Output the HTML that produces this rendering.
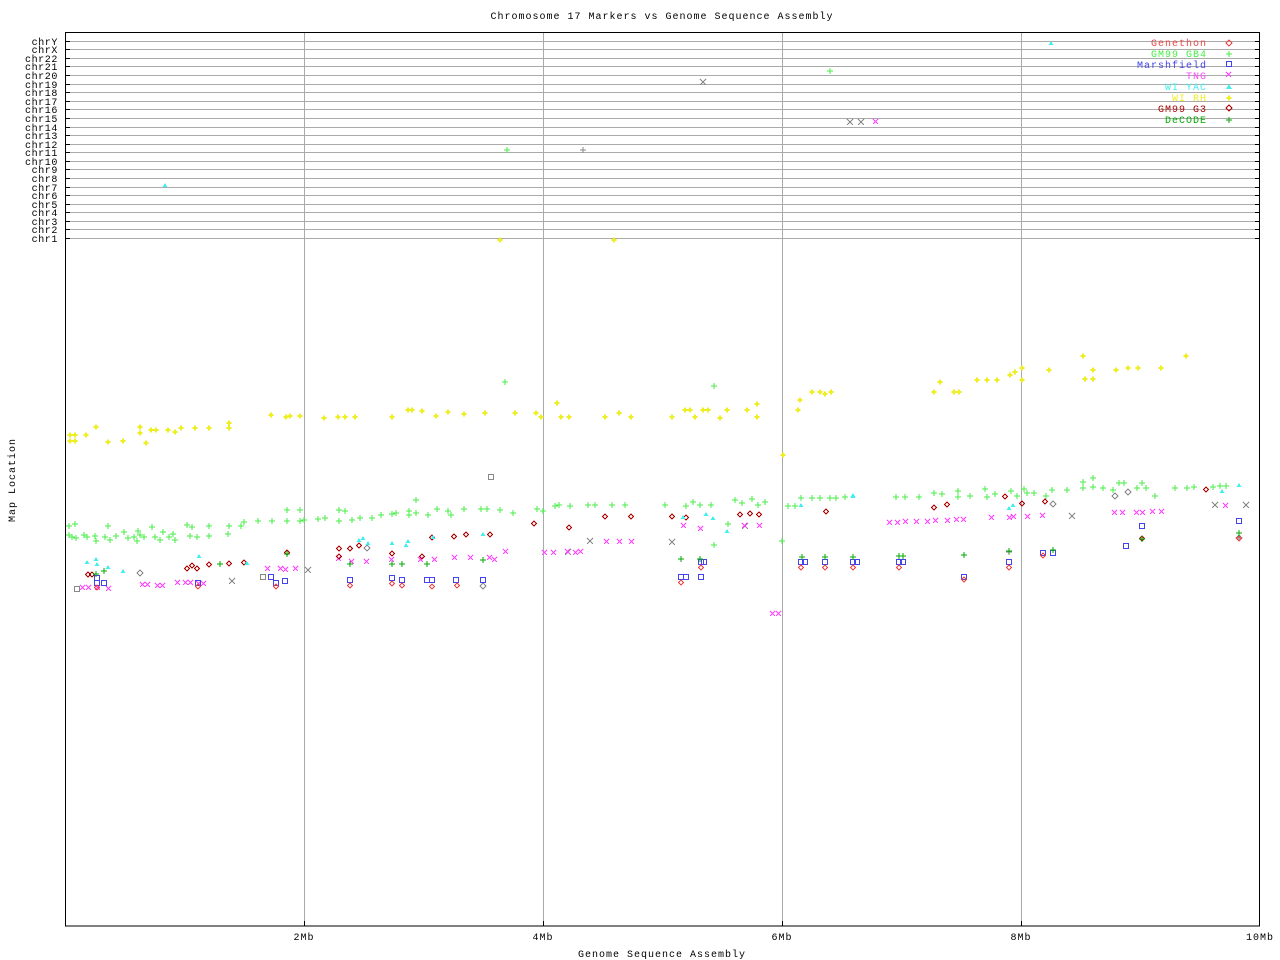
<!DOCTYPE html>
<html><head><meta charset="utf-8"><style>
body{margin:0;background:#fff}
svg{display:block}
text{font-family:"Liberation Mono",monospace;font-size:10px;letter-spacing:1px}
.chr text{letter-spacing:0.6px}
</style></head><body>
<svg width="1280" height="960" viewBox="0 0 1280 960" xmlns="http://www.w3.org/2000/svg" shape-rendering="crispEdges">
<text x="662" y="19" text-anchor="middle" fill="#000">Chromosome 17 Markers vs Genome Sequence Assembly</text>
<text x="662" y="957" text-anchor="middle" fill="#000">Genome Sequence Assembly</text>
<text transform="translate(15,480) rotate(-90)" text-anchor="middle" fill="#000">Map Location</text>
<g stroke="#aaa" stroke-width="1">
<path d="M304.5 32V926M543.5 32V926M782.5 32V926M1021.5 32V926"/>
<path d="M65 41.5H1260M65 49.5H1260M65 58.5H1260M65 66.5H1260M65 75.5H1260M65 84.5H1260M65 92.5H1260M65 101.5H1260M65 109.5H1260M65 118.5H1260M65 127.5H1260M65 135.5H1260M65 144.5H1260M65 152.5H1260M65 161.5H1260M65 169.5H1260M65 178.5H1260M65 187.5H1260M65 195.5H1260M65 204.5H1260M65 212.5H1260M65 221.5H1260M65 229.5H1260M65 238.5H1260"/>
</g>
<g stroke="#000">
<rect x="65.5" y="32.5" width="1194" height="893.5" fill="none"/>
<path d="M65 41.5h5M65 49.5h5M65 58.5h5M65 66.5h5M65 75.5h5M65 84.5h5M65 92.5h5M65 101.5h5M65 109.5h5M65 118.5h5M65 127.5h5M65 135.5h5M65 144.5h5M65 152.5h5M65 161.5h5M65 169.5h5M65 178.5h5M65 187.5h5M65 195.5h5M65 204.5h5M65 212.5h5M65 221.5h5M65 229.5h5M65 238.5h5"/>
<path d="M1260 41.5h-5M1260 49.5h-5M1260 58.5h-5M1260 66.5h-5M1260 75.5h-5M1260 84.5h-5M1260 92.5h-5M1260 101.5h-5M1260 109.5h-5M1260 118.5h-5M1260 127.5h-5M1260 135.5h-5M1260 144.5h-5M1260 152.5h-5M1260 161.5h-5M1260 169.5h-5M1260 178.5h-5M1260 187.5h-5M1260 195.5h-5M1260 204.5h-5M1260 212.5h-5M1260 221.5h-5M1260 229.5h-5M1260 238.5h-5"/>
<path d="M304.5 926v-5M543.5 926v-5M782.5 926v-5M1021.5 926v-5"/>
</g>
<g class="chr" text-anchor="end" fill="#000">
<text x="58" y="45">chrY</text><text x="58" y="53">chrX</text><text x="58" y="62">chr22</text><text x="58" y="70">chr21</text><text x="58" y="79">chr20</text><text x="58" y="88">chr19</text><text x="58" y="96">chr18</text><text x="58" y="105">chr17</text><text x="58" y="113">chr16</text><text x="58" y="122">chr15</text><text x="58" y="131">chr14</text><text x="58" y="139">chr13</text><text x="58" y="148">chr12</text><text x="58" y="156">chr11</text><text x="58" y="165">chr10</text><text x="58" y="173">chr9</text><text x="58" y="182">chr8</text><text x="58" y="191">chr7</text><text x="58" y="199">chr6</text><text x="58" y="208">chr5</text><text x="58" y="216">chr4</text><text x="58" y="225">chr3</text><text x="58" y="233">chr2</text><text x="58" y="242">chr1</text>
</g>
<g text-anchor="middle" fill="#000">
<text x="304" y="940">2Mb</text><text x="543" y="940">4Mb</text><text x="782" y="940">6Mb</text><text x="1021" y="940">8Mb</text><text x="1260" y="940">10Mb</text>
</g>
<g text-anchor="end">
<text x="1207" y="46" fill="#ee4444">Genethon</text>
<text x="1207" y="57" fill="#44ee44">GM99 GB4</text>
<text x="1207" y="68" fill="#4444ee">Marshfield</text>
<text x="1207" y="79" fill="#ff44ff">TNG</text>
<text x="1207" y="90" fill="#44eeee">WI YAC</text>
<text x="1207" y="101" fill="#eeee22">WI RH</text>
<text x="1207" y="112" fill="#aa0000">GM99 G3</text>
<text x="1207" y="123" fill="#00aa00">DeCODE</text>
</g>
<g fill="none" stroke-width="1">
<!-- WI RH stars -->
<path stroke="#eeee22" stroke-width="2.2" d="M1229 98m-2.5 0h5m-2.5-2.5v5
M70 435m-2.5 0h5m-2.5-2.5v5 M75 435m-2.5 0h5m-2.5-2.5v5 M70 441m-2.5 0h5m-2.5-2.5v5 M75 441m-2.5 0h5m-2.5-2.5v5 M86 435m-2.5 0h5m-2.5-2.5v5 M96 427m-2.5 0h5m-2.5-2.5v5 M108 442m-2.5 0h5m-2.5-2.5v5 M123 441m-2.5 0h5m-2.5-2.5v5 M140 427m-2.5 0h5m-2.5-2.5v5 M140 433m-2.5 0h5m-2.5-2.5v5 M146 443m-2.5 0h5m-2.5-2.5v5 M151 430m-2.5 0h5m-2.5-2.5v5 M156 430m-2.5 0h5m-2.5-2.5v5 M168 430m-2.5 0h5m-2.5-2.5v5 M175 432m-2.5 0h5m-2.5-2.5v5 M181 428m-2.5 0h5m-2.5-2.5v5 M195 428m-2.5 0h5m-2.5-2.5v5 M209 428m-2.5 0h5m-2.5-2.5v5 M229 423m-2.5 0h5m-2.5-2.5v5 M229 428m-2.5 0h5m-2.5-2.5v5 M271 415m-2.5 0h5m-2.5-2.5v5 M286 417m-2.5 0h5m-2.5-2.5v5 M290 416m-2.5 0h5m-2.5-2.5v5 M300 416m-2.5 0h5m-2.5-2.5v5 M324 418m-2.5 0h5m-2.5-2.5v5 M338 417m-2.5 0h5m-2.5-2.5v5 M345 417m-2.5 0h5m-2.5-2.5v5 M355 417m-2.5 0h5m-2.5-2.5v5 M392 417m-2.5 0h5m-2.5-2.5v5 M408 410m-2.5 0h5m-2.5-2.5v5 M412 410m-2.5 0h5m-2.5-2.5v5 M422 411m-2.5 0h5m-2.5-2.5v5 M436 416m-2.5 0h5m-2.5-2.5v5 M448 412m-2.5 0h5m-2.5-2.5v5 M464 414m-2.5 0h5m-2.5-2.5v5 M485 413m-2.5 0h5m-2.5-2.5v5 M500 240m-2.5 0h5m-2.5-2.5v5 M515 413m-2.5 0h5m-2.5-2.5v5 M536 413m-2.5 0h5m-2.5-2.5v5 M541 417m-2.5 0h5m-2.5-2.5v5 M557 403m-2.5 0h5m-2.5-2.5v5 M561 417m-2.5 0h5m-2.5-2.5v5 M569 417m-2.5 0h5m-2.5-2.5v5 M605 417m-2.5 0h5m-2.5-2.5v5 M614 240m-2.5 0h5m-2.5-2.5v5 M619 413m-2.5 0h5m-2.5-2.5v5 M631 417m-2.5 0h5m-2.5-2.5v5 M672 417m-2.5 0h5m-2.5-2.5v5 M685 410m-2.5 0h5m-2.5-2.5v5 M690 410m-2.5 0h5m-2.5-2.5v5 M695 417m-2.5 0h5m-2.5-2.5v5 M703 410m-2.5 0h5m-2.5-2.5v5 M708 410m-2.5 0h5m-2.5-2.5v5 M720 418m-2.5 0h5m-2.5-2.5v5 M727 410m-2.5 0h5m-2.5-2.5v5 M747 410m-2.5 0h5m-2.5-2.5v5 M757 404m-2.5 0h5m-2.5-2.5v5 M757 417m-2.5 0h5m-2.5-2.5v5 M783 455m-2.5 0h5m-2.5-2.5v5 M798 410m-2.5 0h5m-2.5-2.5v5 M800 400m-2.5 0h5m-2.5-2.5v5 M812 392m-2.5 0h5m-2.5-2.5v5 M820 392m-2.5 0h5m-2.5-2.5v5 M825 394m-2.5 0h5m-2.5-2.5v5 M831 392m-2.5 0h5m-2.5-2.5v5 M934 392m-2.5 0h5m-2.5-2.5v5 M940 382m-2.5 0h5m-2.5-2.5v5 M954 392m-2.5 0h5m-2.5-2.5v5 M959 392m-2.5 0h5m-2.5-2.5v5 M977 380m-2.5 0h5m-2.5-2.5v5 M987 380m-2.5 0h5m-2.5-2.5v5 M997 380m-2.5 0h5m-2.5-2.5v5 M1010 375m-2.5 0h5m-2.5-2.5v5 M1015 372m-2.5 0h5m-2.5-2.5v5 M1022 368m-2.5 0h5m-2.5-2.5v5 M1022 380m-2.5 0h5m-2.5-2.5v5 M1049 370m-2.5 0h5m-2.5-2.5v5 M1083 356m-2.5 0h5m-2.5-2.5v5 M1085 379m-2.5 0h5m-2.5-2.5v5 M1093 379m-2.5 0h5m-2.5-2.5v5 M1093 370m-2.5 0h5m-2.5-2.5v5 M1116 370m-2.5 0h5m-2.5-2.5v5 M1128 368m-2.5 0h5m-2.5-2.5v5 M1138 368m-2.5 0h5m-2.5-2.5v5 M1161 368m-2.5 0h5m-2.5-2.5v5 M1186 356m-2.5 0h5m-2.5-2.5v5"/>
<!-- GM99 GB4 plus -->
<path stroke="#44ee44" d="M1229 54m-3 0h6m-3-3v6
M69 526m-3 0h6m-3-3v6 M75 524m-3 0h6m-3-3v6 M69 535m-3 0h6m-3-3v6 M72 537m-3 0h6m-3-3v6 M76 538m-3 0h6m-3-3v6 M84 535m-3 0h6m-3-3v6 M87 537m-3 0h6m-3-3v6 M95 536m-3 0h6m-3-3v6 M96 541m-3 0h6m-3-3v6 M108 526m-3 0h6m-3-3v6 M105 537m-3 0h6m-3-3v6 M110 540m-3 0h6m-3-3v6 M116 536m-3 0h6m-3-3v6 M124 532m-3 0h6m-3-3v6 M128 538m-3 0h6m-3-3v6 M134 537m-3 0h6m-3-3v6 M137 541m-3 0h6m-3-3v6 M138 531m-3 0h6m-3-3v6 M140 535m-3 0h6m-3-3v6 M144 537m-3 0h6m-3-3v6 M152 527m-3 0h6m-3-3v6 M155 537m-3 0h6m-3-3v6 M160 540m-3 0h6m-3-3v6 M163 532m-3 0h6m-3-3v6 M169 537m-3 0h6m-3-3v6 M173 534m-3 0h6m-3-3v6 M175 540m-3 0h6m-3-3v6 M187 525m-3 0h6m-3-3v6 M190 536m-3 0h6m-3-3v6 M192 527m-3 0h6m-3-3v6 M197 537m-3 0h6m-3-3v6 M209 526m-3 0h6m-3-3v6 M209 536m-3 0h6m-3-3v6 M228 534m-3 0h6m-3-3v6 M229 526m-3 0h6m-3-3v6 M241 526m-3 0h6m-3-3v6 M244 522m-3 0h6m-3-3v6 M258 521m-3 0h6m-3-3v6 M272 521m-3 0h6m-3-3v6 M287 510m-3 0h6m-3-3v6 M287 521m-3 0h6m-3-3v6 M300 510m-3 0h6m-3-3v6 M300 521m-3 0h6m-3-3v6 M304 520m-3 0h6m-3-3v6
M318 519m-3 0h6m-3-3v6 M325 518m-3 0h6m-3-3v6 M339 510m-3 0h6m-3-3v6 M339 521m-3 0h6m-3-3v6 M345 511m-3 0h6m-3-3v6 M352 520m-3 0h6m-3-3v6 M360 518m-3 0h6m-3-3v6 M372 518m-3 0h6m-3-3v6 M381 515m-3 0h6m-3-3v6 M392 514m-3 0h6m-3-3v6 M396 513m-3 0h6m-3-3v6 M409 511m-3 0h6m-3-3v6 M416 500m-3 0h6m-3-3v6 M409 515m-3 0h6m-3-3v6 M416 513m-3 0h6m-3-3v6 M428 515m-3 0h6m-3-3v6 M437 509m-3 0h6m-3-3v6 M451 515m-3 0h6m-3-3v6 M448 511m-3 0h6m-3-3v6 M464 509m-3 0h6m-3-3v6 M481 509m-3 0h6m-3-3v6 M487 509m-3 0h6m-3-3v6 M500 510m-3 0h6m-3-3v6 M513 513m-3 0h6m-3-3v6 M537 509m-3 0h6m-3-3v6 M543 511m-3 0h6m-3-3v6 M555 506m-3 0h6m-3-3v6 M559 505m-3 0h6m-3-3v6 M570 506m-3 0h6m-3-3v6 M588 505m-3 0h6m-3-3v6 M595 505m-3 0h6m-3-3v6 M612 505m-3 0h6m-3-3v6 M625 505m-3 0h6m-3-3v6 M665 505m-3 0h6m-3-3v6 M686 506m-3 0h6m-3-3v6 M693 502m-3 0h6m-3-3v6 M700 505m-3 0h6m-3-3v6 M711 505m-3 0h6m-3-3v6 M735 500m-3 0h6m-3-3v6 M742 503m-3 0h6m-3-3v6 M752 499m-3 0h6m-3-3v6 M758 505m-3 0h6m-3-3v6 M765 502m-3 0h6m-3-3v6 M728 524m-3 0h6m-3-3v6 M714 545m-3 0h6m-3-3v6 M782 541m-3 0h6m-3-3v6
M788 506m-3 0h6m-3-3v6 M795 506m-3 0h6m-3-3v6 M801 498m-3 0h6m-3-3v6 M812 498m-3 0h6m-3-3v6 M820 498m-3 0h6m-3-3v6 M830 498m-3 0h6m-3-3v6 M836 498m-3 0h6m-3-3v6 M845 497m-3 0h6m-3-3v6 M896 497m-3 0h6m-3-3v6 M905 497m-3 0h6m-3-3v6 M919 497m-3 0h6m-3-3v6 M934 493m-3 0h6m-3-3v6 M942 494m-3 0h6m-3-3v6 M958 491m-3 0h6m-3-3v6 M958 497m-3 0h6m-3-3v6 M970 496m-3 0h6m-3-3v6 M985 489m-3 0h6m-3-3v6 M987 497m-3 0h6m-3-3v6 M995 494m-3 0h6m-3-3v6 M1011 491m-3 0h6m-3-3v6 M1017 496m-3 0h6m-3-3v6 M1024 489m-3 0h6m-3-3v6 M1027 493m-3 0h6m-3-3v6 M1034 493m-3 0h6m-3-3v6 M1046 496m-3 0h6m-3-3v6 M1052 490m-3 0h6m-3-3v6 M1067 490m-3 0h6m-3-3v6 M1083 482m-3 0h6m-3-3v6 M1083 488m-3 0h6m-3-3v6 M1093 478m-3 0h6m-3-3v6 M1093 487m-3 0h6m-3-3v6 M1103 488m-3 0h6m-3-3v6 M1113 490m-3 0h6m-3-3v6 M1119 483m-3 0h6m-3-3v6 M1124 483m-3 0h6m-3-3v6 M1137 488m-3 0h6m-3-3v6 M1142 483m-3 0h6m-3-3v6 M1146 488m-3 0h6m-3-3v6 M1155 496m-3 0h6m-3-3v6 M1175 488m-3 0h6m-3-3v6 M1187 488m-3 0h6m-3-3v6 M1194 487m-3 0h6m-3-3v6 M1213 487m-3 0h6m-3-3v6 M1220 486m-3 0h6m-3-3v6 M1226 486m-3 0h6m-3-3v6
M505 382m-3 0h6m-3-3v6 M714 386m-3 0h6m-3-3v6 M507 150m-3 0h6m-3-3v6 M830 71m-3 0h6m-3-3v6"/>
<!-- gray -->
<path stroke="#888" d="M583 150m-3 0h6m-3-3v6 M1239 538m-3 0h6m-3-3v6 M1009 552m-3 0h6m-3-3v6
M700 79l6 6m0-6l-6 6 M847 119l6 6m0-6l-6 6 M858 119l6 6m0-6l-6 6 M1212 502l6 6m0-6l-6 6 M1243 502l6 6m0-6l-6 6 M1069 513l6 6m0-6l-6 6 M587 538l6 6m0-6l-6 6 M305 567l6 6m0-6l-6 6 M229 578l6 6m0-6l-6 6 M669 539l6 6m0-6l-6 6 M565 549l6 6m0-6l-6 6 M742 523l6 6m0-6l-6 6
M488.5 474.5h5v5h-5z M1236.5 518.5h5v5h-5z M74.5 586.5h5v5h-5z M260.5 574.5h5v5h-5z
M1115 493l3 3-3 3-3-3z M1128 489l3 3-3 3-3-3z M140 570l3 3-3 3-3-3z M367 545l3 3-3 3-3-3z M1053 501l3 3-3 3-3-3z M1239 535l3 3-3 3-3-3z M483 583l3 3-3 3-3-3z"/>
<!-- TNG x -->
<path stroke="#ff44ff" d="M1226 72l5 5m0-5l-5 5
M80 585l5 5m0-5l-5 5 M86 585l5 5m0-5l-5 5 M95 585l5 5m0-5l-5 5 M106 586l5 5m0-5l-5 5 M140 582l5 5m0-5l-5 5 M145 582l5 5m0-5l-5 5 M155 583l5 5m0-5l-5 5 M160 583l5 5m0-5l-5 5 M175 580l5 5m0-5l-5 5 M183 580l5 5m0-5l-5 5 M188 580l5 5m0-5l-5 5 M196 581l5 5m0-5l-5 5 M201 581l5 5m0-5l-5 5 M265 566l5 5m0-5l-5 5 M278 566l5 5m0-5l-5 5 M283 567l5 5m0-5l-5 5 M293 566l5 5m0-5l-5 5 M336 556l5 5m0-5l-5 5 M349 559l5 5m0-5l-5 5 M364 559l5 5m0-5l-5 5 M389 557l5 5m0-5l-5 5 M418 557l5 5m0-5l-5 5 M432 557l5 5m0-5l-5 5 M452 555l5 5m0-5l-5 5 M468 555l5 5m0-5l-5 5 M487 555l5 5m0-5l-5 5 M492 557l5 5m0-5l-5 5 M503 549l5 5m0-5l-5 5 M542 550l5 5m0-5l-5 5 M551 550l5 5m0-5l-5 5 M565 549l5 5m0-5l-5 5 M573 550l5 5m0-5l-5 5 M578 549l5 5m0-5l-5 5 M604 539l5 5m0-5l-5 5 M617 539l5 5m0-5l-5 5 M629 539l5 5m0-5l-5 5 M681 523l5 5m0-5l-5 5 M698 526l5 5m0-5l-5 5 M742 523l5 5m0-5l-5 5 M757 523l5 5m0-5l-5 5 M770 611l5 5m0-5l-5 5 M776 611l5 5m0-5l-5 5 M873 119l5 5m0-5l-5 5
M887 520l5 5m0-5l-5 5 M895 520l5 5m0-5l-5 5 M903 519l5 5m0-5l-5 5 M914 519l5 5m0-5l-5 5 M925 519l5 5m0-5l-5 5 M933 518l5 5m0-5l-5 5 M945 518l5 5m0-5l-5 5 M954 517l5 5m0-5l-5 5 M961 517l5 5m0-5l-5 5 M989 515l5 5m0-5l-5 5 M1007 515l5 5m0-5l-5 5 M1011 514l5 5m0-5l-5 5 M1025 514l5 5m0-5l-5 5 M1040 513l5 5m0-5l-5 5 M1112 510l5 5m0-5l-5 5 M1120 510l5 5m0-5l-5 5 M1134 510l5 5m0-5l-5 5 M1140 510l5 5m0-5l-5 5 M1150 509l5 5m0-5l-5 5 M1159 509l5 5m0-5l-5 5 M1223 503l5 5m0-5l-5 5"/>
<!-- Marshfield squares -->
<path stroke="#4444ee" d="M1226.5 61.5h5v5h-5z
M94.5 575.5h5v5h-5z M94.5 580.5h5v5h-5z M101.5 580.5h5v5h-5z M195.5 580.5h5v5h-5z M268.5 574.5h5v5h-5z M273.5 580.5h5v5h-5z M282.5 578.5h5v5h-5z M347.5 577.5h5v5h-5z M389.5 575.5h5v5h-5z M399.5 577.5h5v5h-5z M424.5 577.5h5v5h-5z M429.5 577.5h5v5h-5z M453.5 577.5h5v5h-5z M480.5 577.5h5v5h-5z M678.5 574.5h5v5h-5z M683.5 574.5h5v5h-5z M698.5 574.5h5v5h-5z M698.5 559.5h5v5h-5z M701.5 559.5h5v5h-5z M798.5 559.5h5v5h-5z M802.5 559.5h5v5h-5z M822.5 559.5h5v5h-5z M850.5 559.5h5v5h-5z M854.5 559.5h5v5h-5z M896.5 559.5h5v5h-5z M900.5 559.5h5v5h-5z M961.5 574.5h5v5h-5z M1006.5 559.5h5v5h-5z M1040.5 550.5h5v5h-5z M1050.5 550.5h5v5h-5z M1123.5 543.5h5v5h-5z M1139.5 523.5h5v5h-5z M1236.5 518.5h5v5h-5z"/>
<!-- Genethon diamonds -->
<path stroke="#ee4444" d="M1229 40l3 3-3 3-3-3z
M97 585l2.5 2.5-2.5 2.5-2.5-2.5z M198 584l2.5 2.5-2.5 2.5-2.5-2.5z M276 584l2.5 2.5-2.5 2.5-2.5-2.5z M350 583l2.5 2.5-2.5 2.5-2.5-2.5z M392 581l2.5 2.5-2.5 2.5-2.5-2.5z M402 583l2.5 2.5-2.5 2.5-2.5-2.5z M432 584l2.5 2.5-2.5 2.5-2.5-2.5z M681 580l2.5 2.5-2.5 2.5-2.5-2.5z M701 565l2.5 2.5-2.5 2.5-2.5-2.5z M801 565l2.5 2.5-2.5 2.5-2.5-2.5z M825 565l2.5 2.5-2.5 2.5-2.5-2.5z M853 565l2.5 2.5-2.5 2.5-2.5-2.5z M899 565l2.5 2.5-2.5 2.5-2.5-2.5z M1009 565l2.5 2.5-2.5 2.5-2.5-2.5z M1043 553l2.5 2.5-2.5 2.5-2.5-2.5z M1142 536l2.5 2.5-2.5 2.5-2.5-2.5z M1239 536l2.5 2.5-2.5 2.5-2.5-2.5z M964 577l2.5 2.5-2.5 2.5-2.5-2.5z M457 583l2.5 2.5-2.5 2.5-2.5-2.5z"/>
<!-- GM99 G3 diamonds -->
<path stroke="#aa0000" d="M1229 105l3 3-3 3-3-3z
M88 572l2.5 2.5-2.5 2.5-2.5-2.5z M92 572l2.5 2.5-2.5 2.5-2.5-2.5z M187 566l2.5 2.5-2.5 2.5-2.5-2.5z M192 563l2.5 2.5-2.5 2.5-2.5-2.5z M197 566l2.5 2.5-2.5 2.5-2.5-2.5z M209 562l2.5 2.5-2.5 2.5-2.5-2.5z M229 561l2.5 2.5-2.5 2.5-2.5-2.5z M244 560l2.5 2.5-2.5 2.5-2.5-2.5z M287 550l2.5 2.5-2.5 2.5-2.5-2.5z M339 546l2.5 2.5-2.5 2.5-2.5-2.5z M339 554l2.5 2.5-2.5 2.5-2.5-2.5z M350 546l2.5 2.5-2.5 2.5-2.5-2.5z M359 543l2.5 2.5-2.5 2.5-2.5-2.5z M392 551l2.5 2.5-2.5 2.5-2.5-2.5z M422 554l2.5 2.5-2.5 2.5-2.5-2.5z M432 535l2.5 2.5-2.5 2.5-2.5-2.5z M454 534l2.5 2.5-2.5 2.5-2.5-2.5z M466 532l2.5 2.5-2.5 2.5-2.5-2.5z M534 521l2.5 2.5-2.5 2.5-2.5-2.5z M569 525l2.5 2.5-2.5 2.5-2.5-2.5z M605 514l2.5 2.5-2.5 2.5-2.5-2.5z M631 514l2.5 2.5-2.5 2.5-2.5-2.5z M672 514l2.5 2.5-2.5 2.5-2.5-2.5z M686 515l2.5 2.5-2.5 2.5-2.5-2.5z M740 512l2.5 2.5-2.5 2.5-2.5-2.5z M750 511l2.5 2.5-2.5 2.5-2.5-2.5z M759 512l2.5 2.5-2.5 2.5-2.5-2.5z M826 509l2.5 2.5-2.5 2.5-2.5-2.5z M934 505l2.5 2.5-2.5 2.5-2.5-2.5z M947 502l2.5 2.5-2.5 2.5-2.5-2.5z M1005 494l2.5 2.5-2.5 2.5-2.5-2.5z M1022 501l2.5 2.5-2.5 2.5-2.5-2.5z M1045 499l2.5 2.5-2.5 2.5-2.5-2.5z M1142 536l2.5 2.5-2.5 2.5-2.5-2.5z M1206 487l2.5 2.5-2.5 2.5-2.5-2.5z M490 532l2.5 2.5-2.5 2.5-2.5-2.5z"/>
<!-- DeCODE plus -->
<path stroke="#00aa00" d="M1229 120m-3 0h6m-3-3v6
M96 574m-3 0h6m-3-3v6 M104 571m-3 0h6m-3-3v6 M220 564m-3 0h6m-3-3v6 M287 554m-3 0h6m-3-3v6 M350 564m-3 0h6m-3-3v6 M392 564m-3 0h6m-3-3v6 M402 564m-3 0h6m-3-3v6 M427 564m-3 0h6m-3-3v6 M483 560m-3 0h6m-3-3v6 M681 559m-3 0h6m-3-3v6 M700 559m-3 0h6m-3-3v6 M802 557m-3 0h6m-3-3v6 M825 557m-3 0h6m-3-3v6 M853 557m-3 0h6m-3-3v6 M899 556m-3 0h6m-3-3v6 M903 556m-3 0h6m-3-3v6 M964 555m-3 0h6m-3-3v6 M1009 551m-3 0h6m-3-3v6 M1053 550m-3 0h6m-3-3v6 M1142 539m-3 0h6m-3-3v6 M1239 533m-3 0h6m-3-3v6"/>
</g>
<!-- WI YAC triangles -->
<path fill="#44eeee" d="M1229 84l3 5h-6z
M165 183l2.5 4h-5z M1051 41l2.5 4h-5z M87 560l2.5 4h-5z M97 562l2.5 4h-5z M96 557l2.5 4h-5z M108 565l2.5 4h-5z M123 569l2.5 4h-5z M199 554l2.5 4h-5z M247 561l2.5 4h-5z M359 538l2.5 4h-5z M363 536l2.5 4h-5z M368 541l2.5 4h-5z M406 543l2.5 4h-5z M408 539l2.5 4h-5z M392 541l2.5 4h-5z M483 532l2.5 4h-5z M683 515l2.5 4h-5z M706 512l2.5 4h-5z M713 516l2.5 4h-5z M727 529l2.5 4h-5z M801 503l2.5 4h-5z M853 494l2.5 4h-5z M1009 506l2.5 4h-5z M1013 503l2.5 4h-5z M1222 489l2.5 4h-5z M1239 483l2.5 4h-5z M853 493l2.5 4h-5z M433 535l2.5 4h-5z"/>
</svg>
</body></html>
